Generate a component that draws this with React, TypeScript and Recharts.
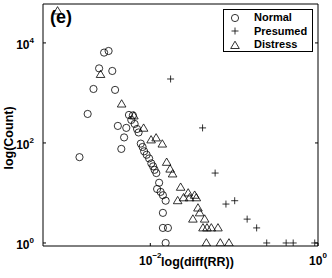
import { ScatterChart, Scatter, XAxis, YAxis, Legend, Label } from 'recharts'

const FONT = '"Liberation Sans", Arial, Helvetica, sans-serif'

// log(diff(RR)) positions and counts
const normalX = [
  0.00281, 0.00318, 0.00245, 0.00352, 0.0021, 0.0038, 0.00179, 0.00556, 0.0062, 0.0041,
  0.00517, 0.00593, 0.0065, 0.00695, 0.00725, 0.00487, 0.00143, 0.00451, 0.0077, 0.00809,
  0.00844, 0.00904, 0.00968, 0.01028, 0.0108, 0.01125, 0.0118, 0.01274, 0.01205, 0.01327,
  0.01413, 0.01524, 0.01413, 0.01413, 0.01622, 0.01524,
]
const normalCount = [
  6400, 6900, 3100, 2750, 1200, 1150, 380, 363, 355, 219,
  200, 288, 240, 190, 162, 129, 52, 76, 97, 83,
  68, 58, 49, 39, 34, 29, 25, 16, 12, 10.5,
  9, 7, 4, 2, 2, 1,
]

const distressX = [
  0.000783, 0.00255, 0.00455, 0.00637, 0.00832, 0.01022, 0.01173, 0.0139, 0.01567, 0.01723,
  0.01844, 0.023, 0.0283, 0.0338, 0.0212, 0.0249, 0.0294, 0.0354, 0.037, 0.0388,
  0.0322, 0.0445, 0.0425, 0.0474, 0.0534, 0.0641, 0.0466, 0.0684, 0.0867,
]
const distressCount = [
  43600, 2340, 600, 347, 197, 115, 126, 95, 41, 30,
  24, 13, 10, 9, 7, 8, 8, 8, 5, 4,
  3, 3, 2, 2, 2, 2, 1, 1, 1,
]

const presumedX = [0.01746, 0.042, 0.0593, 0.0798, 0.1015, 0.1429, 0.1855, 0.2445, 0.417, 0.506, 0.914]
const presumedCount = [1900, 200, 25, 6, 7, 3, 2, 1, 1, 1, 1]

const X_DOMAIN: [number, number] = [0.000525, 1]
const Y_DOMAIN: [number, number] = [0.87, 60000]
const X_TICKS = [0.01, 1]
const Y_TICKS = [1, 100, 10000]

const zip = (xs: number[], ys: number[]) => xs.map((x, i) => ({ x, y: ys[i] }))
const normal = zip(normalX, normalCount)
const distress = zip(distressX, distressCount)
const presumed = zip(presumedX, presumedCount)

const INK = '#000'

const CircleMark = (p: any) => (
  <circle cx={p.cx} cy={p.cy} r={3.6} fill="none" stroke={INK} strokeWidth={0.8} />
)
const TriMark = (p: any) => (
  <path
    d={`M${p.cx},${p.cy - 4.3}L${p.cx + 4.3},${p.cy + 3}L${p.cx - 4.3},${p.cy + 3}Z`}
    fill="none" stroke={INK} strokeWidth={0.8}
  />
)
const PlusMark = (p: any) => (
  <path
    d={`M${p.cx - 3.5},${p.cy}H${p.cx + 3.5}M${p.cx},${p.cy - 3.5}V${p.cy + 3.5}`}
    fill="none" stroke={INK} strokeWidth={0.8}
  />
)

const exponent = (v: number) => String(Math.round(Math.log10(v))).replace('-', '\u2212')

function YTick(props: any) {
  const { y, payload } = props
  return (
    <text x={34} y={y + 6} textAnchor="end" fontFamily={FONT} fontWeight="bold" fontSize={12} fill={INK}>
      10<tspan dy={-6} fontSize={8}>{exponent(payload.value)}</tspan>
    </text>
  )
}

function XTick(props: any) {
  const { x, payload } = props
  return (
    <text x={x} y={265} textAnchor="middle" fontFamily={FONT} fontWeight="bold" fontSize={12} fill={INK}>
      10<tspan dy={-7} fontSize={8}>{exponent(payload.value)}</tspan>
    </text>
  )
}

const NoTick = () => <g />

const legendRows = [
  { name: 'Normal', mark: <CircleMark cx={6} cy={6} /> },
  { name: 'Presumed', mark: <PlusMark cx={6} cy={6} /> },
  { name: 'Distress', mark: <TriMark cx={6} cy={6.5} /> },
]

function LegendBox() {
  return (
    <div
      style={{
        border: '1px solid #000', background: '#fff', width: 90, height: 43,
        boxSizing: 'border-box', paddingTop: 1, fontFamily: FONT, fontWeight: 'bold',
        fontSize: 11, color: INK,
      }}
    >
      {legendRows.map(r => (
        <div key={r.name} style={{ display: 'flex', alignItems: 'center', height: 13.5 }}>
          <svg width={12} height={12} style={{ marginLeft: 5 }}>{r.mark}</svg>
          <span style={{ marginLeft: 13, lineHeight: '13.5px' }}>{r.name}</span>
        </div>
      ))}
    </div>
  )
}

export default function App() {
  return (
    <div style={{ position: 'relative', width: 332, height: 278, background: '#fff' }}>
      <style>{'body{margin:0;background:#fff}'}</style>
      <ScatterChart width={332} height={278} margin={{ top: 3, right: 13, bottom: 0, left: 0 }}>
        <XAxis
          dataKey="x" type="number" scale="log" domain={X_DOMAIN} allowDataOverflow
          ticks={X_TICKS} interval={0} tickSize={-3} tick={<XTick />} height={32}
          stroke={INK}
        >
          <Label
            content={(p: any) => {
              const vb = p.viewBox
              return (
                <text x={vb.x + vb.width / 2 + 17} y={266} textAnchor="middle"
                  fontFamily={FONT} fontWeight="bold" fontSize={12.5} fill={INK}>
                  log(diff(RR))
                </text>
              )
            }}
          />
        </XAxis>
        <XAxis
          xAxisId="top" orientation="top" type="number" scale="log" domain={X_DOMAIN}
          allowDataOverflow ticks={X_TICKS} interval={0} tickSize={-3} tick={NoTick}
          height={1} stroke={INK}
        />
        <YAxis
          dataKey="y" type="number" scale="log" domain={Y_DOMAIN} allowDataOverflow
          ticks={Y_TICKS} interval={0} tickSize={-3} tick={<YTick />} width={43}
          stroke={INK}
        >
          <Label
            content={(p: any) => {
              const vb = p.viewBox
              const cy = vb.y + vb.height / 2 + 13
              return (
                <text x={13} y={cy} transform={`rotate(-90 13 ${cy})`} textAnchor="middle"
                  fontFamily={FONT} fontWeight="bold" fontSize={12.5} fill={INK}>
                  log(Count)
                </text>
              )
            }}
          />
        </YAxis>
        <YAxis
          yAxisId="right" orientation="right" type="number" scale="log" domain={Y_DOMAIN}
          allowDataOverflow ticks={Y_TICKS} interval={0} tickSize={-3} tick={NoTick}
          width={1} stroke={INK}
        />
        <Legend
          content={<LegendBox />}
          layout="horizontal" verticalAlign="middle" align="center"
          wrapperStyle={{ top: 9, left: 223, width: 90, height: 43 }}
        />
        <Scatter name="Normal" data={normal} shape={CircleMark} isAnimationActive={false} />
        <Scatter name="Distress" data={distress} shape={TriMark} isAnimationActive={false} />
        <Scatter name="Presumed" data={presumed} shape={PlusMark} isAnimationActive={false} />
      </ScatterChart>
      <div
        style={{
          position: 'absolute', left: 50, top: 5, fontFamily: FONT, fontWeight: 'bold',
          fontSize: 18, lineHeight: '24px', color: INK,
        }}
      >
        (e)
      </div>
    </div>
  )
}
